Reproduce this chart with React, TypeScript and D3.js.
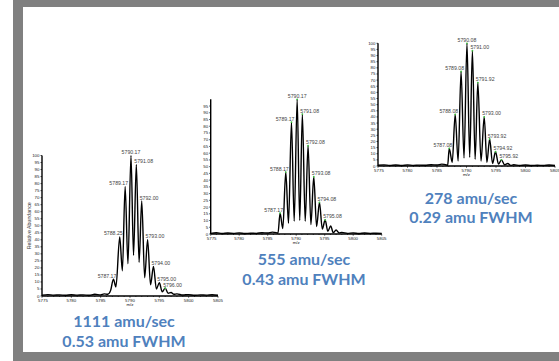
import React from 'react';
import * as d3 from 'd3';

// m/z profile points (peaks and valleys)
const fastMz = [5775, 5776, 5777, 5778, 5779, 5780, 5781, 5782, 5783, 5784, 5785, 5785.6, 5786.2, 5786.7, 5787.17, 5787.6, 5788.25, 5788.7, 5789.17, 5789.65, 5790.17, 5790.6, 5791.08, 5791.55, 5792.0, 5792.5, 5793.0, 5793.5, 5794.0, 5794.5, 5795.0, 5795.5, 5796.0, 5796.5, 5797, 5797.5, 5798, 5799, 5800, 5801, 5802, 5803, 5804, 5805];
const fastInt = [0.6, 1, 0.6, 0.8, 0.5, 0.9, 0.6, 0.8, 0.5, 1.2, 0.8, 1.5, 1.2, 4, 12, 6.5, 42, 18, 78, 23, 100, 29, 93.6, 24, 67.6, 13, 40, 8, 21, 5, 9.4, 3, 5.6, 2, 2.5, 1.2, 1.5, 0.7, 1, 0.5, 0.8, 0.6, 0.9, 0.5];

const midMz = [5775, 5776, 5777, 5778, 5779, 5780, 5781, 5782, 5783, 5784, 5785, 5785.8, 5786.5, 5786.8, 5787.17, 5787.65, 5788.17, 5788.65, 5789.17, 5789.65, 5790.17, 5790.62, 5791.08, 5791.58, 5792.08, 5792.58, 5793.08, 5793.58, 5794.08, 5794.58, 5795.08, 5795.55, 5796.05, 5796.5, 5797, 5797.5, 5798, 5799, 5800, 5801, 5802, 5803, 5804, 5805];
const midInt = [0.5, 0.9, 0.4, 0.7, 0.5, 0.8, 0.4, 0.6, 0.5, 0.9, 0.7, 1.4, 1, 0.5, 15.4, 4, 46, 8, 83, 9.5, 100, 10, 89, 9.5, 65.5, 7, 42.5, 5.6, 23.5, 3.7, 10.4, 2, 6, 1, 3, 0.8, 1.2, 0.5, 0.8, 0.4, 0.7, 0.5, 0.6, 0.4];

const slowMz = [5775, 5776, 5777, 5778, 5779, 5780, 5781, 5782, 5783, 5784, 5785, 5785.8, 5786.6, 5786.8, 5787.08, 5787.58, 5788.08, 5788.58, 5789.08, 5789.58, 5790.08, 5790.54, 5791.0, 5791.46, 5791.92, 5792.46, 5793.0, 5793.46, 5793.92, 5794.42, 5794.92, 5795.42, 5795.92, 5796.45, 5797, 5797.5, 5798, 5799, 5800, 5801, 5802, 5803, 5804, 5805];
const slowInt = [0.6, 0.9, 0.5, 0.8, 0.4, 0.9, 0.5, 0.7, 0.6, 1, 0.8, 1.5, 0.8, 0.4, 14.4, 3, 42, 4, 77, 6.5, 100, 7, 94, 5.5, 68, 4, 40, 3, 22, 2, 11.6, 1.5, 5, 1, 2, 0.5, 1, 0.5, 0.8, 0.4, 0.6, 0.5, 0.8, 0.4];

// labelled peaks
const fastLabels = ['5787.17', '5788.25', '5789.17', '5790.17', '5791.08', '5792.00', '5793.00', '5794.00', '5795.00', '5796.00'];
const fastHeights = [12, 42, 78, 100, 93.6, 67.6, 40, 21, 9.4, 5.6];
const midLabels = ['5787.17', '5788.17', '5789.17', '5790.17', '5791.08', '5792.08', '5793.08', '5794.08', '5795.08'];
const midHeights = [15.4, 46, 83, 100, 89, 65.5, 42.5, 23.5, 10.4];
const slowLabels = ['5787.08', '5788.08', '5789.08', '5790.08', '5791.00', '5791.92', '5793.00', '5793.92', '5794.92', '5795.92'];
const slowHeights = [14.4, 42, 77, 100, 94, 68, 40, 22, 11.6, 5];

const xTicks = [5775, 5780, 5785, 5790, 5795, 5800, 5805];
const titles = [
  ['1111 amu/sec', '0.53 amu FWHM'],
  ['555 amu/sec', '0.43 amu FWHM'],
  ['278 amu/sec', '0.29 amu FWHM'],
];

const FONT = 'Arial, "Liberation Sans", sans-serif';
const BLUE = '#4f81bd';

type PanelProps = {
  mz: number[];
  intensity: number[];
  labels: string[];
  heights: number[];
  x0: number;
  x1: number;
  yBottom: number;
  yTop: number;
  yMax: number;
  yLabel?: boolean;
  markers: 'all' | 'last';
  title: string[];
  titleX: number;
  titleY: number;
};

const Panel = (p: PanelProps) => {
  const x = d3.scaleLinear().domain([5775, 5805]).range([p.x0, p.x1]);
  const y = d3.scaleLinear().domain([0, 100]).range([p.yBottom, p.yTop]);
  const line = d3.line<number>()
    .x((_, i) => x(p.mz[i]))
    .y(d => y(d))
    .curve(d3.curveMonotoneX);
  const yTicks = d3.range(0, p.yMax + 1, 5);
  const minorX = d3.range(5775, 5806, 1);
  const baseIdx = p.heights.indexOf(d3.max(p.heights) as number);

  return (
    <g>
      <path d={line(p.intensity) || ''} fill="none" stroke="#000" strokeWidth={1.4} strokeLinejoin="round" />
      {/* y axis */}
      <line x1={p.x0} x2={p.x0} y1={p.yBottom} y2={y(100)} stroke="#000" strokeWidth={1.4} />
      {yTicks.map(t => (
        <g key={'y' + t}>
          <line x1={p.x0 - 1.5} x2={p.x0} y1={y(t)} y2={y(t)} stroke="#000" strokeWidth={0.7} />
          <text x={p.x0 - 2.5} y={y(t) + 1.5} fontSize={4.4} textAnchor="end" fill="#222" fontFamily={FONT}>{t}</text>
        </g>
      ))}
      {/* x axis */}
      <line x1={p.x0} x2={p.x1} y1={p.yBottom} y2={p.yBottom} stroke="#000" strokeWidth={1.4} />
      {minorX.map(t => (
        <line key={'m' + t} x1={x(t)} x2={x(t)} y1={p.yBottom} y2={p.yBottom + (t % 5 === 0 ? 1.8 : 1)} stroke="#000" strokeWidth={0.6} />
      ))}
      {xTicks.map(t => (
        <text key={'x' + t} x={x(t) + (t === 5775 ? 1 : 0)} y={p.yBottom + 6} fontSize={4.4} textAnchor="middle" fill="#222" fontFamily={FONT}>{t}</text>
      ))}
      <text x={x(5790)} y={p.yBottom + 10} fontSize={4.4} textAnchor="middle" fill="#222" fontFamily={FONT}>m/z</text>
      {p.yLabel && (
        <text transform={`translate(${p.x0 - 11},${(p.yBottom + p.yTop) / 2}) rotate(-90)`} fontSize={5.3} textAnchor="middle" fill="#333" fontFamily={FONT}>Relative Abundance</text>
      )}
      {/* peak labels */}
      {p.labels.map((lab, i) => {
        const px = x(+lab);
        const py = y(p.heights[i]);
        const anchor = i === baseIdx ? 'middle' : i < baseIdx ? 'end' : 'start';
        const dx = i === baseIdx ? 0 : i < baseIdx ? 3 : -2;
        const showDot = p.markers === 'all' || i === p.labels.length - 1;
        return (
          <g key={'p' + lab}>
            {showDot && <circle cx={px} cy={py} r={0.9} fill="#3fbf3f" />}
            <text x={px + dx} y={py - 1.5} fontSize={5.2} textAnchor={anchor} fill="#444" fontFamily={FONT}>{lab}</text>
          </g>
        );
      })}
      {p.title.map((t, i) => (
        <text key={t} x={p.titleX} y={p.titleY + i * 19.5} fontSize={16} fontWeight="bold" textAnchor="middle" fill={BLUE} fontFamily="Lato, 'Open Sans', sans-serif">{t}</text>
      ))}
    </g>
  );
};

export default function App() {
  return (
    <svg width={559} height={361} style={{ position: 'absolute', left: 0, top: 0, display: 'block' }}>
      <rect x={0} y={0} width={559} height={361} fill="#fff" />
      <rect x={13} y={0} width={546} height={361} fill="#808080" />
      <rect x={23} y={7} width={536} height={345} fill="#fff" />
      <Panel mz={fastMz} intensity={fastInt} labels={fastLabels} heights={fastHeights}
        x0={42} x1={218} yBottom={296} yTop={155.5} yMax={100} yLabel markers="last"
        title={titles[0]} titleX={124} titleY={327} />
      <Panel mz={midMz} intensity={midInt} labels={midLabels} heights={midHeights}
        x0={210.7} x1={381.7} yBottom={234} yTop={99.3} yMax={95} markers="all"
        title={titles[1]} titleX={304} titleY={265} />
      <Panel mz={slowMz} intensity={slowInt} labels={slowLabels} heights={slowHeights}
        x0={378} x1={555} yBottom={166} yTop={43.3} yMax={100} markers="all"
        title={titles[2]} titleX={471} titleY={203.5} />
    </svg>
  );
}
